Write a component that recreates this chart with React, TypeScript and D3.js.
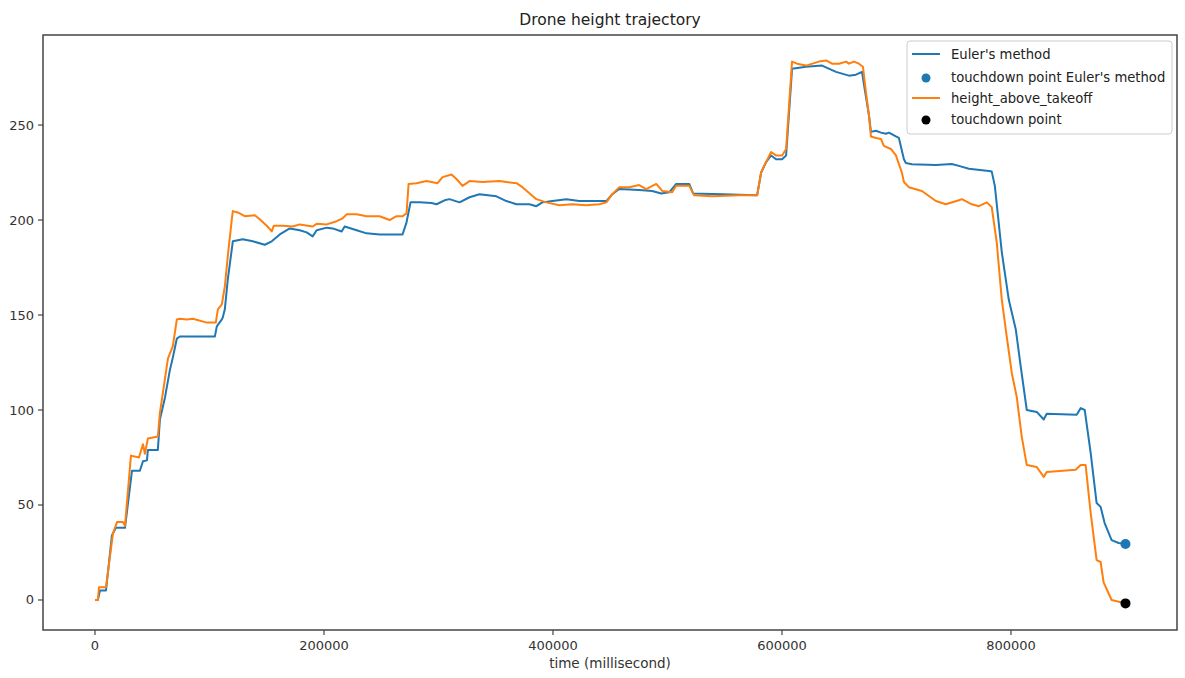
import React from "react";
import * as d3 from "d3";

const eulerTime = [0, 2500, 4400, 9600, 14800, 18300, 26200, 32300, 39200, 41900, 45400, 46200, 54900, 56700, 61100, 65400, 68000, 71500, 74100, 104700, 106400, 110800, 111600, 113400, 116000, 120400, 129100, 137800, 148300, 154400, 161400, 170100, 178800, 184900, 190100, 193600, 202400, 207600, 215400, 218100, 228500, 237200, 248600, 268600, 272100, 275600, 283500, 293900, 298300, 305300, 309600, 318400, 327100, 335800, 350600, 359300, 368100, 379400, 385500, 390700, 399500, 411700, 423000, 446600, 451800, 457900, 475300, 486700, 494500, 501500, 507600, 519000, 522400, 547700, 578300, 581800, 586100, 590500, 594800, 600100, 603600, 608800, 621000, 635000, 647200, 658500, 664600, 669900, 672500, 676000, 677700, 682100, 686400, 690800, 693400, 699500, 702100, 706500, 708200, 713500, 734400, 748300, 754500, 763200, 780600, 783200, 785900, 792000, 798100, 804200, 808500, 813800, 822500, 828600, 831200, 857400, 860900, 864400, 869600, 874800, 878300, 881800, 887900, 894000, 900000];
const eulerHeight = [0, 0, 5, 5, 34, 38, 38, 68, 68, 73, 73.5, 79, 79, 95, 106.5, 121, 127.6, 137.6, 138.7, 138.7, 144, 147.7, 148.7, 153, 168.8, 188.8, 189.9, 188.8, 187, 188.8, 192.4, 195.6, 194.6, 193.5, 191.4, 194.6, 196, 195.6, 194, 196.6, 194.6, 193, 192.4, 192.4, 198.8, 209.3, 209.3, 209, 208.3, 210.4, 211, 209.3, 212, 213.6, 212.5, 210, 208.3, 208.3, 207.3, 209.3, 210, 211, 210, 210, 213.6, 216.3, 215.8, 215.3, 214, 214.6, 219, 219, 214, 213.6, 213, 225, 230.5, 234, 232, 232, 234, 279.6, 280.7, 281.3, 278, 276, 276.5, 278, 268, 255, 246.4, 247, 246, 245.4, 246, 244, 243.2, 232, 230, 229.4, 229, 229.5, 228.5, 227, 225.8, 225.5, 218, 183, 158, 142.4, 123, 100, 99, 95, 98, 97.5, 101, 100, 77.4, 51, 49, 40.5, 31.5, 30, 29.5];

const takeoffTime = [0, 2500, 3500, 9600, 15700, 19200, 24400, 26200, 31400, 38400, 41900, 43600, 46200, 54900, 56700, 59300, 63700, 68000, 71500, 74100, 80200, 85500, 97700, 105500, 107300, 110800, 113400, 116000, 119500, 120400, 124700, 130800, 139600, 143900, 150000, 154400, 156100, 164000, 172700, 178800, 190100, 193600, 202400, 211100, 216300, 219800, 228500, 237200, 248600, 257300, 263400, 268600, 272100, 273900, 280800, 289600, 299200, 303500, 311400, 315700, 321000, 327100, 338400, 353200, 368100, 373300, 385500, 394200, 405600, 416900, 429100, 440500, 446600, 451800, 457900, 466600, 475300, 481500, 490200, 495400, 504100, 507600, 519000, 523300, 539000, 562600, 578300, 581800, 586100, 590500, 594800, 600100, 603600, 608800, 613200, 621000, 632300, 638500, 643700, 649800, 655900, 658500, 662900, 667200, 670700, 673300, 676000, 677700, 682100, 686400, 689000, 695100, 699500, 704700, 706500, 710800, 722200, 734400, 743100, 754500, 757100, 765800, 771900, 778900, 783200, 787600, 792000, 796300, 800700, 805000, 809400, 813800, 822500, 828600, 831200, 856500, 860900, 865200, 869600, 874800, 878300, 880900, 887900, 900000];
const takeoffHeight = [0, 0, 6.7, 6.7, 35, 41, 41, 39, 76, 75, 82, 77, 85, 86, 98.5, 109, 127, 133.6, 147.7, 148, 147.7, 148, 146, 146, 153, 155.6, 165, 181, 200.4, 204.7, 204, 202, 202.5, 200.4, 197, 194, 197, 197, 196.6, 197.7, 196.6, 198, 197.7, 199.4, 200.9, 203, 203, 202, 202, 200, 202, 202, 203.5, 219, 219.4, 220.5, 219.4, 222.6, 224, 221.6, 218, 220.5, 220, 220.5, 219.4, 217.3, 211, 209.3, 207.8, 208.3, 207.8, 208.3, 209.3, 213.6, 217.3, 217.3, 218.4, 216.3, 219, 215.3, 214.6, 218, 218, 213, 212.5, 213, 213, 225, 230.5, 235.8, 234, 234, 237.4, 283.4, 282.3, 281.3, 283.4, 284, 282.3, 282.3, 283.4, 282.3, 283.4, 282.3, 280.7, 267.5, 255, 244, 243.2, 242.7, 239, 237.4, 234, 225, 220, 217.3, 215.3, 210, 208.3, 210.4, 211, 208.3, 207.3, 209.3, 206.8, 188, 158, 138.6, 119.5, 107, 86, 71, 70, 64.8, 67.4, 68.5, 71, 71, 45.8, 21, 20, 9.3, 0, -1.8];

const eulerTouchdown = [900000, 29.5];
const touchdown = [900000, -1.8];

const xTicks = [0, 200000, 400000, 600000, 800000];
const yTicks = [0, 50, 100, 150, 200, 250];

const legendLabels = ["Euler's method", "touchdown point Euler's method", "height_above_takeoff", "touchdown point"];

const BLUE = "#1f77b4";
const ORANGE = "#ff7f0e";

export default function App() {
  const W = 1185, H = 678;
  const L = 43, R = 1177, T = 35, B = 630;
  const x = d3.scaleLinear().domain([-45400, 945000]).range([L, R]);
  const y = d3.scaleLinear().domain([-15.8, 297.4]).range([B, T]);
  const line = d3.line<[number, number]>().x(d => x(d[0])).y(d => y(d[1]));
  const euler = eulerTime.map((t, i) => [t, eulerHeight[i]] as [number, number]);
  const takeoff = takeoffTime.map((t, i) => [t, takeoffHeight[i]] as [number, number]);
  const font = "DejaVu Sans, sans-serif";
  const textColor = "#333";
  const lx = 907, ly = 41;
  const rowY = [54, 77, 98, 119];
  return (
    <svg width={W} height={H} style={{ position: "fixed", left: 0, top: 0, background: "#fff" }} fontFamily={font}>
      <rect x={0} y={0} width={W} height={H} fill="#fff" />
      <text x={(L + R) / 2} y={25} textAnchor="middle" fontSize={15.5} fill="#222">Drone height trajectory</text>
      <path d={line(euler) || ""} fill="none" stroke={BLUE} strokeWidth={2} strokeLinejoin="round" />
      <path d={line(takeoff) || ""} fill="none" stroke={ORANGE} strokeWidth={2} strokeLinejoin="round" />
      <circle cx={x(eulerTouchdown[0])} cy={y(eulerTouchdown[1])} r={5} fill={BLUE} />
      <circle cx={x(touchdown[0])} cy={y(touchdown[1])} r={5} fill="#000" />
      <rect x={L} y={T} width={R - L} height={B - T} fill="none" stroke="#444" strokeWidth={1.5} />
      {xTicks.map(t => (
        <g key={"x" + t}>
          <line x1={x(t)} x2={x(t)} y1={B} y2={B + 5} stroke="#444" strokeWidth={1.2} />
          <text x={x(t)} y={B + 20} textAnchor="middle" fontSize={13} fill={textColor}>{t}</text>
        </g>
      ))}
      {yTicks.map(v => (
        <g key={"y" + v}>
          <line x1={L - 5} x2={L} y1={y(v)} y2={y(v)} stroke="#444" strokeWidth={1.2} />
          <text x={L - 9} y={y(v) + 4.5} textAnchor="end" fontSize={13} fill={textColor}>{v}</text>
        </g>
      ))}
      <text x={610} y={668} textAnchor="middle" fontSize={13.5} fill={textColor}>time (millisecond)</text>
      <g>
        <rect x={lx} y={ly} width={265} height={93} rx={3} fill="#fff" fillOpacity={0.8} stroke="#ccc" strokeWidth={1} />
        <line x1={912} x2={940} y1={rowY[0]} y2={rowY[0]} stroke={BLUE} strokeWidth={2} />
        <circle cx={926} cy={rowY[1] + 1} r={4.5} fill={BLUE} />
        <line x1={912} x2={940} y1={rowY[2]} y2={rowY[2]} stroke={ORANGE} strokeWidth={2} />
        <circle cx={926} cy={rowY[3] + 1} r={4.5} fill="#000" />
        {legendLabels.map((s, i) => (
          <text key={s} x={951} y={rowY[i] + 4.5} fontSize={13.2} fill="#222">{s}</text>
        ))}
      </g>
    </svg>
  );
}
